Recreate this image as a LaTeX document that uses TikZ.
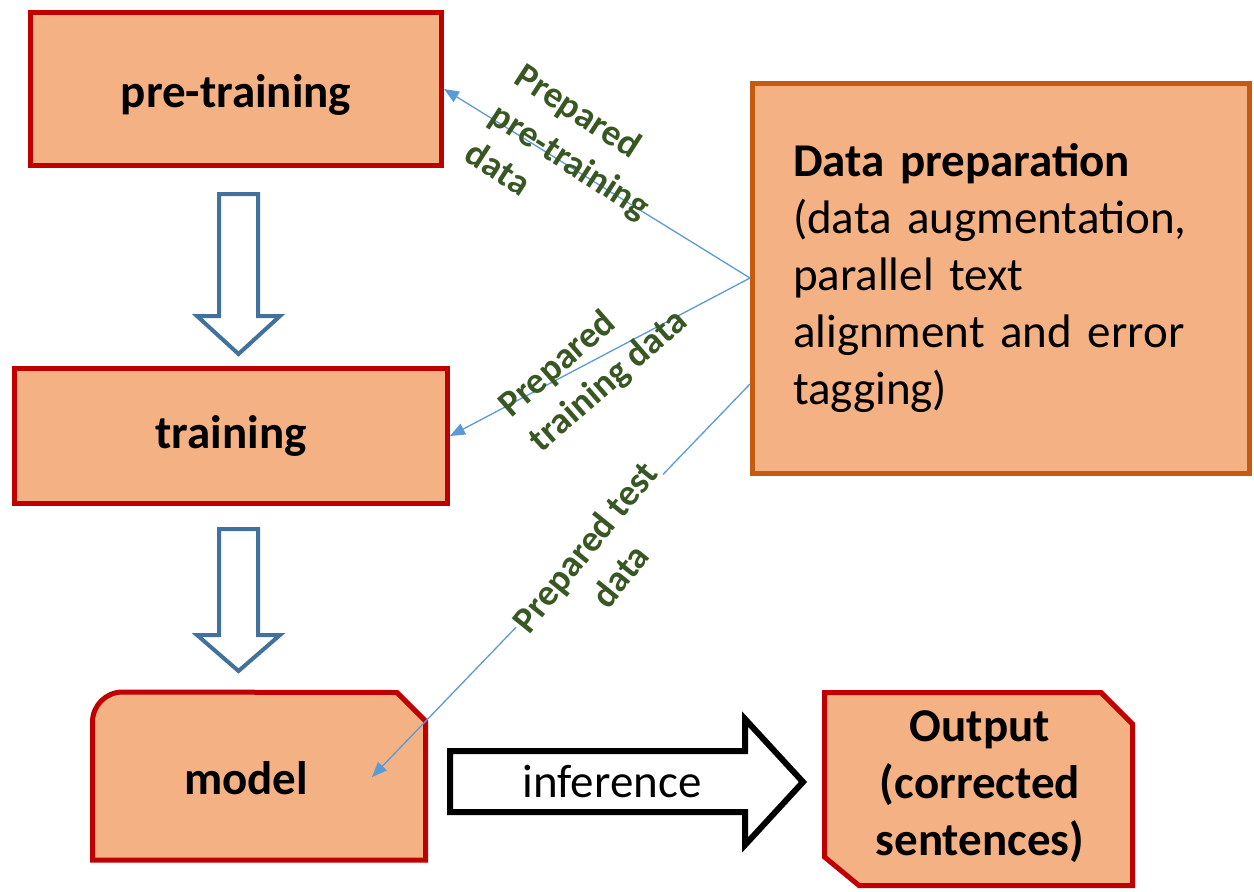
\documentclass[tikz,border=0pt]{standalone}
\usepackage{fontspec}
\setmainfont{Carlito}
\usetikzlibrary{arrows.meta}

\definecolor{boxred}{HTML}{C00000}
\definecolor{boxfill}{HTML}{F4B183}
\definecolor{prepedge}{HTML}{C55A11}
\definecolor{labelgreen}{HTML}{385723}
\definecolor{flowblue}{HTML}{5B9BD5}
\definecolor{stepblue}{HTML}{41719C}

\tikzset{
    stagebox/.style={draw=boxred, fill=boxfill, line width=5pt, font=\fontsize{47}{57}\selectfont\bfseries},
    flowlabel/.style={text=labelgreen, font=\fontsize{37}{46}\selectfont\bfseries, inner sep=2pt},
    flowline/.style={draw=flowblue, line width=1.3pt, -{Triangle[length=15pt,width=12pt]}},
    downstep/.style={draw=stepblue, fill=white, line width=4pt, line join=miter}
}

\begin{document}
\begin{tikzpicture}[x=1pt, y=-1pt]
    \useasboundingbox (0,0) rectangle (1254,892);

    % the three stages on the left
    \node[stagebox, minimum width=411pt, minimum height=153pt, text height=46pt, text depth=10pt] (pre) at (236,89) {pre-training};
    \node[stagebox, minimum width=433pt, minimum height=135pt] (train) at (231,436) {training};

    \draw[draw=boxred, fill=boxfill, line width=5pt, line join=miter]
        (92.5,860) -- (92.5,722) arc[start angle=180, end angle=270, radius=30]
        -- (397,692.5) -- (425.5,721) -- (425.5,860) -- cycle;
    \node[font=\fontsize{47}{57}\selectfont\bfseries] (model) at (246,778) {model};

    % output box with snipped corners
    \draw[draw=boxred, fill=boxfill, line width=5pt, line join=miter]
        (824.5,692.5) -- (1101,692.5) -- (1132.5,724) -- (1132.5,885.5)
        -- (859,885.5) -- (824.5,857) -- cycle;
    \node[font=\fontsize{47}{57}\selectfont\bfseries, align=center] (out) at (980,787)
        {Output\\(corrected\\sentences)};

    % data preparation
    \node[draw=prepedge, fill=boxfill, line width=5pt, minimum width=497pt, minimum height=390pt,
          text width=416pt, inner sep=0pt, align=left, font=\fontsize{47}{57}\selectfont] (prep) at (1001,278)
        {\textbf{Data preparation}\\(data augmentation,\\parallel text\\alignment and error\\tagging)};

    % block arrows between the stages
    \draw[downstep] (219,194) -- (258,194) -- (258,316) -- (280,316) -- (238.5,354)
        -- (197,316) -- (219,316) -- cycle;
    \draw[downstep] (219,529) -- (258,529) -- (258,635) -- (280,635) -- (238.5,671)
        -- (197,635) -- (219,635) -- cycle;

    % inference
    \draw[draw=black, fill=white, line width=6pt, line join=miter]
        (450,751) -- (745,751) -- (745,719) -- (803,782) -- (745,845) -- (745,812)
        -- (450,812) -- cycle;
    \node[font=\fontsize{47}{57}\selectfont] (inf) at (612,781) {inference};

    % data flows
    \coordinate (tst) at ([yshift=-106pt]prep.west);
    \coordinate (mt) at (372,777);
    \draw[flowline] (prep.west) -- (pre.east);
    \draw[flowline] (prep.west) -- (train.east);
    \draw[flowline] (tst) -- (mt);

    \node[flowlabel, rotate=-33, align=left] (lpre) at (571,160) {Prepared\\pre-training\\data};
    \node[flowlabel, rotate=41, align=left] (ltrain) at (594,364) {Prepared\\training data};
    \node[flowlabel, rotate=51, align=center, fill=white, inner sep=2pt] (ltest) at (602,561) {Prepared test\\data};
\end{tikzpicture}
\end{document}
